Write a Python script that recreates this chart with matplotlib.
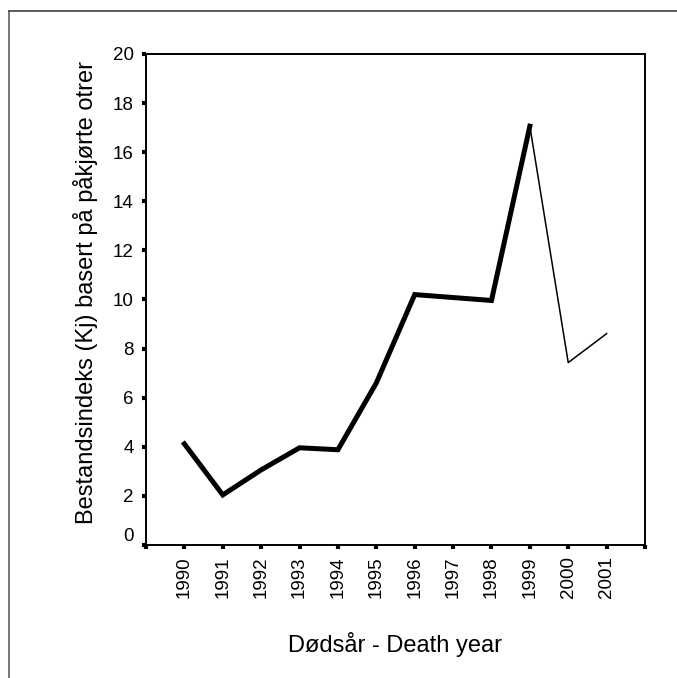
import matplotlib
matplotlib.use('Agg')
import matplotlib.pyplot as plt
from matplotlib.lines import Line2D

plt.rcParams['font.family'] = ['Liberation Sans', 'DejaVu Sans']

years = ['1990', '1991', '1992', '1993', '1994', '1995',
         '1996', '1997', '1998', '1999', '2000', '2001']
index_kj = [4.12, 2.04, 3.06, 3.96, 3.88, 6.6,
            10.2, 10.08, 9.96, 17.06, 7.43, 8.61]
# last complete year before the thin (provisional) part of the curve
split = 9

fig = plt.figure(figsize=(6.77, 6.78), dpi=100)
ax = fig.add_axes([146/677, 1 - 545/678, 499/677, 491/678])

pos = list(range(1, len(years) + 1))
ax.plot(pos[:split + 1], index_kj[:split + 1], color='black', lw=3.6,
        solid_joinstyle='miter')
ax.plot(pos[split:], index_kj[split:], color='black', lw=1.1)

ax.set_xlim(0, len(years) + 1)
ax.set_ylim(0, 20)
ax.set_xticks(range(0, len(years) + 2))
ax.set_xticklabels([''] + years + [''], rotation=90, fontsize=13.5)
ax.set_yticks(range(0, 21, 2))
ax.set_yticklabels([str(v) for v in range(0, 21, 2)], fontsize=13.5)
ax.tick_params(axis='both', length=3, width=3, color='black')
ax.tick_params(axis='x', pad=5)
ax.tick_params(axis='y', pad=6)
for s in ax.spines.values():
    s.set_linewidth(1.4)
# zero label sits slightly above its tick
ax.get_yticklabels()[0].set_verticalalignment('bottom')

ax.set_xlabel('Dødsår - Death year', fontsize=17, va='baseline')
ax.xaxis.set_label_coords(0.5, (545 - 652) / 491)
ax.set_ylabel('Bestandsindeks (Kj) basert på påkjørte otrer', fontsize=17,
              va='baseline')
ax.yaxis.set_label_coords((93 - 146) / 499, (545 - 292) / 491)

# outer frame (left and top edges only)
fig.add_artist(Line2D([9/677, 9/677], [0, 1 - 11/678],
                      color='#606060', lw=1.2, transform=fig.transFigure))
fig.add_artist(Line2D([9/677, 1], [1 - 11/678, 1 - 11/678],
                      color='#404040', lw=1.2, transform=fig.transFigure))

fig.savefig('out.png', dpi=100)
